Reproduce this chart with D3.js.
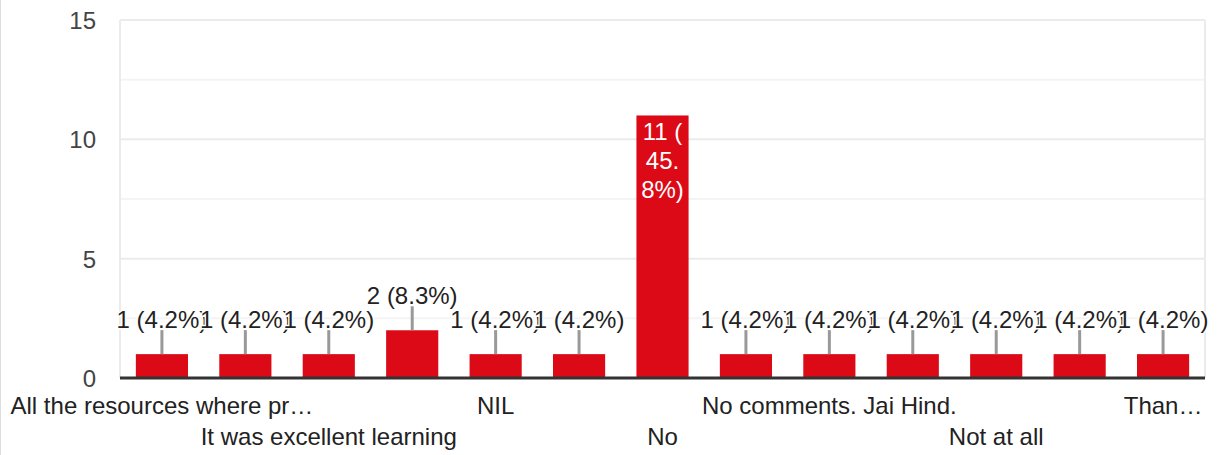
<!DOCTYPE html>
<html>
<head>
<meta charset="utf-8">
<script src="https://cdn.jsdelivr.net/npm/d3@7"></script>
<style>
  body { margin: 0; background: #fff; }
  svg { display: block; font-family: Arial, "Liberation Sans", sans-serif; }
  .tick line { display: none; }
  .domain { display: none; }
</style>
</head>
<body>
<div id="chart"></div>
<script>
// responses, in the order the form lists them
const categories = [
    "All the resources where pr…", "Good", "It was excellent learning", "Na",
    "NIL", "Nil", "No", "No comment", "No comments. Jai Hind.", "None",
    "Not at all", "Nothing", "Than…"
];
const counts = [1, 1, 1, 2, 1, 1, 11, 1, 1, 1, 1, 1, 1];
const percents = ["4.2%", "4.2%", "4.2%", "8.3%", "4.2%", "4.2%", "45.8%",
    "4.2%", "4.2%", "4.2%", "4.2%", "4.2%", "4.2%"];
const yTicks = [0, 5, 10, 15];
const yMinor = [2.5, 7.5, 12.5];

const W = 1217, H = 455;
const margin = {top: 20, right: 12, bottom: 77, left: 120},
    width = W - margin.left - margin.right,
    height = H - margin.top - margin.bottom;

const svg = d3.select("#chart").append("svg")
    .attr("width", W)
    .attr("height", H);

// card border on the left
svg.append("line")
    .attr("x1", 0.5).attr("x2", 0.5)
    .attr("y1", 0).attr("y2", H)
    .style("stroke", "#dadce0");

const g = svg.append("g")
    .attr("transform", "translate(" + margin.left + "," + margin.top + ")");

const x = d3.scaleBand()
    .domain(categories)
    .range([0, width])
    .paddingInner(0.375)
    .paddingOuter(0.19);

const y = d3.scaleLinear()
    .domain([0, 15])
    .range([height, 0]);

// minor grid
g.selectAll(".minor").data(yMinor).enter()
    .append("line")
    .attr("x1", 0).attr("x2", width)
    .attr("y1", d => y(d)).attr("y2", d => y(d))
    .style("stroke", "#f4f4f4")
    .style("stroke-width", 2);

// major grid
g.selectAll(".major").data(yTicks.slice(1)).enter()
    .append("line")
    .attr("x1", 0).attr("x2", width)
    .attr("y1", d => y(d)).attr("y2", d => y(d))
    .style("stroke", "#ebebeb")
    .style("stroke-width", 2);

// frame sides
[0, width].forEach(function(px) {
    g.append("line")
        .attr("x1", px).attr("x2", px)
        .attr("y1", y(15)).attr("y2", y(0))
        .style("stroke", "#ebebeb")
        .style("stroke-width", 2);
});

// y axis
g.append("g")
    .call(d3.axisLeft(y).tickValues(yTicks).tickSize(0).tickPadding(24))
    .call(a => a.selectAll("text")
        .style("font-family", "Arial, 'Liberation Sans', sans-serif")
        .style("font-size", "24px")
        .style("fill", "#444")
        .attr("dy", "0.36em"));

// bars
g.selectAll(".bar").data(counts).enter()
    .append("rect")
    .attr("x", (d, i) => x(categories[i]))
    .attr("y", d => y(d))
    .attr("width", x.bandwidth())
    .attr("height", d => y(0) - y(d))
    .style("fill", "#dc0a17");

// baseline
g.append("line")
    .attr("x1", 0).attr("x2", width)
    .attr("y1", y(0)).attr("y2", y(0))
    .style("stroke", "#333")
    .style("stroke-width", 3);

// value labels: outside with leader line, inside when the bar is tall
const cx = i => x(categories[i]) + x.bandwidth() / 2;
counts.forEach(function(d, i) {
    const txt = d + " (" + percents[i] + ")";
    if (d > 5) {
        const lines = [d + " (", percents[i].slice(0, 3), percents[i].slice(3) + ")"];
        g.append("text")
            .attr("x", cx(i))
            .attr("y", y(d) + 25)
            .attr("text-anchor", "middle")
            .style("font-size", "24px")
            .style("fill", "#fff")
            .selectAll("tspan").data(lines).enter()
            .append("tspan")
            .attr("x", cx(i))
            .attr("dy", (t, k) => k ? 29 : 0)
            .text(t => t);
    } else {
        g.append("line")
            .attr("x1", cx(i)).attr("x2", cx(i))
            .attr("y1", y(d)).attr("y2", y(d) - 24)
            .style("stroke", "#999")
            .style("stroke-width", 3);
        g.append("text")
            .attr("x", cx(i))
            .attr("y", y(d) - 26)
            .attr("text-anchor", "middle")
            .style("font-size", "24px")
            .style("fill", "#222")
            .style("stroke", "#fff")
            .style("stroke-width", 3)
            .style("paint-order", "stroke")
            .text(txt);
    }
});

// x labels: every other category, staggered on two rows
g.selectAll(".xlab").data(categories.filter((c, i) => i % 2 === 0)).enter()
    .append("text")
    .attr("x", d => x(d) + x.bandwidth() / 2)
    .attr("y", (d, k) => height + (k % 2 ? 67 : 36))
    .attr("text-anchor", "middle")
    .style("font-size", "24px")
    .style("fill", "#222")
    .text(d => d);
</script>
</body>
</html>
